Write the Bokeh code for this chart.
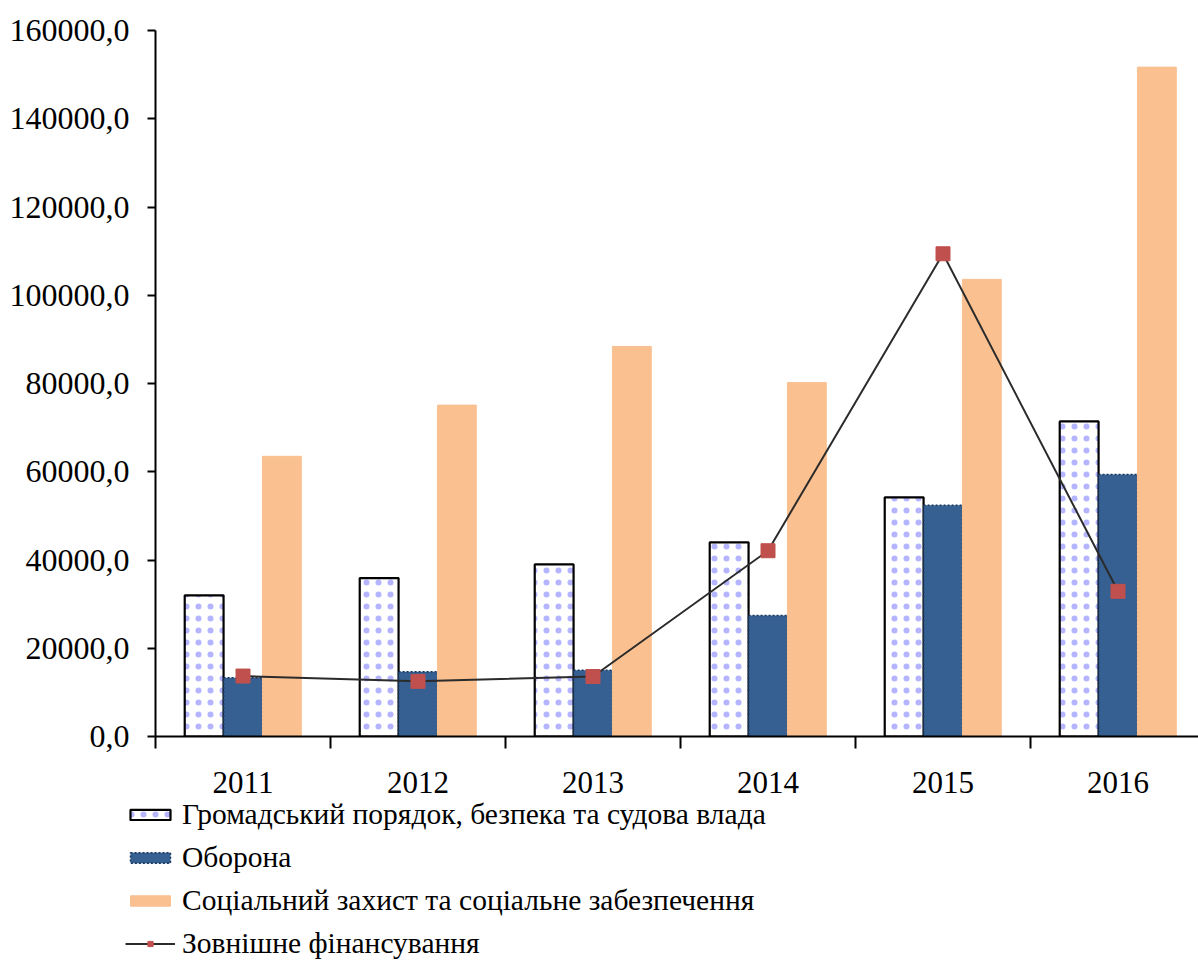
from bokeh.plotting import figure
from bokeh.layouts import column
from bokeh.models import (ColumnDataSource, FixedTicker, Range1d, Legend, LegendItem,
                          CustomJSTickFormatter)
from bokeh.embed import file_html
from bokeh.resources import INLINE

years = ["2011", "2012", "2013", "2014", "2015", "2016"]
public_order = [32000, 35900, 39000, 44000, 54200, 71400]
defence = [13300, 14700, 15000, 27400, 52400, 59400]
social = [63500, 75100, 88400, 80200, 103600, 151700]
external = [13700, 12500, 13600, 42100, 109400, 32900]

names = ["Громадський порядок, безпека та судова влада", "Оборона",
         "Соціальний захист та соціальне забезпечення", "Зовнішне фінансування"]

FONT = "Liberation Serif"
centers = [i + 0.5 for i in range(len(years))]
bw = 0.222

src = ColumnDataSource(dict(
    x=centers,
    x1=[c - bw for c in centers],
    x3=[c + bw for c in centers],
    po=public_order, de=defence, so=social, ex=external))

W = 1198
MAIN_H = 798

style_po = dict(fill_color="white", line_color="black", line_width=2.2,
                hatch_pattern="dot", hatch_color="#8c8cff",
                hatch_scale=12, hatch_weight=1.5, hatch_alpha=0.65)
style_de = dict(fill_color="#366092", line_color="#17375E", line_width=1.5, line_dash="2 2")
style_so = dict(fill_color="#FAC090", line_color="#FAC090", line_width=1)
style_line = dict(line_color="#2b2b2b", line_width=2)
style_mk = dict(marker="square", size=14, fill_color="#C0504D", line_color="#C0504D")

p = figure(width=W, height=MAIN_H, output_backend="svg", toolbar_location=None,
           x_range=Range1d(0, 5.96), y_range=Range1d(0, 160000),
           min_border_left=155, min_border_top=30, min_border_right=0,
           min_border_bottom=MAIN_H - 736)
p.outline_line_color = None
p.grid.visible = False

p.vbar(x="x1", top="po", width=bw, source=src, **style_po)
p.vbar(x="x", top="de", width=bw, source=src, **style_de)
p.vbar(x="x3", top="so", width=bw, source=src, **style_so)
p.line(x="x", y="ex", source=src, **style_line)
p.scatter(x="x", y="ex", source=src, **style_mk)

xa = p.xaxis[0]
xa.ticker = FixedTicker(ticks=centers, minor_ticks=list(range(0, 7)))
xa.major_label_overrides = {c: y for c, y in zip(centers, years)}
xa.major_tick_out = 0
xa.major_tick_in = 0
xa.minor_tick_out = 12
xa.minor_tick_in = 0
xa.minor_tick_line_color = "black"
xa.minor_tick_line_width = 2
xa.axis_line_color = "black"
xa.axis_line_width = 2
xa.major_label_text_font = FONT
xa.major_label_text_font_size = "31px"
xa.major_label_text_color = "black"
xa.major_label_standoff = 23

ya = p.yaxis[0]
ya.ticker = FixedTicker(ticks=list(range(0, 160001, 20000)), minor_ticks=[])
ya.formatter = CustomJSTickFormatter(code="return tick.toFixed(1).replace('.', ',');")
ya.major_tick_out = 8
ya.major_tick_in = 0
ya.major_tick_line_width = 2
ya.axis_line_width = 2
ya.major_label_text_font = FONT
ya.major_label_text_font_size = "32px"
ya.major_label_text_color = "black"
ya.major_label_standoff = 18

# legend in its own strip below the chart
lg = figure(width=1000, height=961 - MAIN_H, output_backend="svg", toolbar_location=None,
            x_axis_type=None, y_axis_type=None,
            x_range=Range1d(0, 1), y_range=Range1d(0, 1),
            min_border_left=125, min_border_top=0, min_border_right=0,
            min_border_bottom=0)
lg.frame_align = False
lg.outline_line_color = None
lg.grid.visible = False
nan = float("nan")
off = ColumnDataSource(dict(x=[nan], y=[nan], top=[nan], bottom=[nan]))
g1 = lg.vbar(x="x", top="top", bottom="bottom", width=0.1, source=off, **style_po)
g2 = lg.vbar(x="x", top="top", bottom="bottom", width=0.1, source=off, **style_de)
g3 = lg.vbar(x="x", top="top", bottom="bottom", width=0.1, source=off, **style_so)
g4 = lg.line(x="x", y="y", source=off, **style_line)
g5 = lg.scatter(x="x", y="y", source=off, **style_mk)

legend = Legend(items=[
    LegendItem(label=names[0], renderers=[g1]),
    LegendItem(label=names[1], renderers=[g2]),
    LegendItem(label=names[2], renderers=[g3]),
    LegendItem(label=names[3], renderers=[g4, g5]),
], location="top_left")
legend.label_text_font = FONT
legend.label_text_font_size = "29.5px"
legend.label_text_color = "black"
legend.glyph_width = 50
legend.glyph_height = 13
legend.label_height = 30
legend.label_standoff = 7
legend.spacing = 10
legend.padding = 0
legend.margin = 0
legend.border_line_color = None
legend.background_fill_alpha = 0
lg.add_layout(legend, "center")

layout = column(p, lg, spacing=0)
open("out.html", "w").write(file_html(layout, INLINE))
